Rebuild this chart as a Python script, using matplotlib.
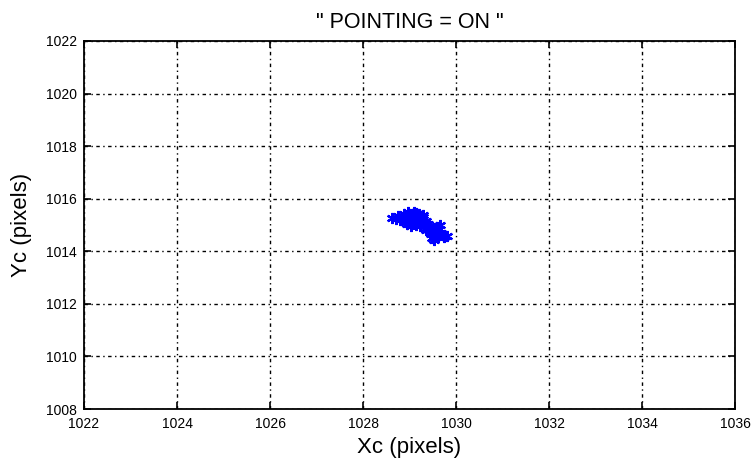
import matplotlib
matplotlib.use("Agg")
import matplotlib.pyplot as plt

plt.rcParams['font.family'] = ['Liberation Sans', 'DejaVu Sans']

# Centroid positions (pixels)
xc = [1028.62, 1028.70, 1028.75, 1028.80, 1028.85, 1028.88, 1028.90, 1028.93,
      1028.97, 1029.00, 1029.02, 1029.05, 1029.06, 1029.08, 1029.10, 1029.12,
      1029.15, 1029.16, 1029.18, 1029.20, 1029.22, 1029.25, 1029.27, 1029.30,
      1029.32, 1029.35, 1029.38, 1029.40, 1029.42, 1029.45, 1029.47, 1029.48,
      1029.50, 1029.52, 1029.55, 1029.58, 1029.60, 1029.62, 1029.65, 1029.68,
      1029.72, 1029.75, 1029.80, 1028.95, 1029.03, 1029.13, 1029.28, 1029.36]
yc = [1015.28, 1015.22, 1015.35, 1015.18, 1015.30, 1015.42, 1015.10, 1015.25,
      1015.48, 1015.35, 1015.15, 1015.05, 1015.40, 1015.28, 1015.50, 1015.20,
      1015.00, 1015.35, 1015.12, 1015.42, 1014.95, 1015.25, 1015.08, 1015.30,
      1014.98, 1015.15, 1014.90, 1015.05, 1014.80, 1014.95, 1014.65, 1014.50,
      1014.85, 1014.42, 1014.60, 1014.75, 1014.92, 1014.55, 1015.00, 1014.70,
      1014.62, 1014.55, 1014.58, 1015.05, 1014.98, 1015.45, 1015.38, 1014.82]

x_ticks = [1022, 1024, 1026, 1028, 1030, 1032, 1034, 1036]
y_ticks = [1008, 1010, 1012, 1014, 1016, 1018, 1020, 1022]

fig = plt.figure(figsize=(7.55, 4.62), dpi=100)
ax = fig.add_axes([0.1113, 0.1147, 0.8622, 0.7966])

ax.plot(xc, yc, linestyle='none', marker=(6, 2, 0), markersize=8,
        markeredgewidth=1.6, color='#0000ff')

ax.set_xlim(1022, 1036)
ax.set_ylim(1008, 1022)
ax.set_xticks(x_ticks)
ax.set_yticks(y_ticks)
ax.tick_params(direction='in', length=5, width=1.2, top=True, right=True,
               labelsize=10, colors='black')
ax.tick_params(axis='x', pad=6)
ax.tick_params(axis='y', pad=5)
ax.grid(True, color='black', linewidth=1.0, linestyle=(0, (2.5, 2.5, 1, 2.5)))
for s in ax.spines.values():
    s.set_linewidth(1.3)

ax.set_title('" POINTING = ON "', fontsize=15.5, pad=9)
ax.set_xlabel('Xc (pixels)', fontsize=16, labelpad=4)
ax.set_ylabel('Yc (pixels)', fontsize=16, labelpad=10)

fig.savefig('out.png', dpi=100)
